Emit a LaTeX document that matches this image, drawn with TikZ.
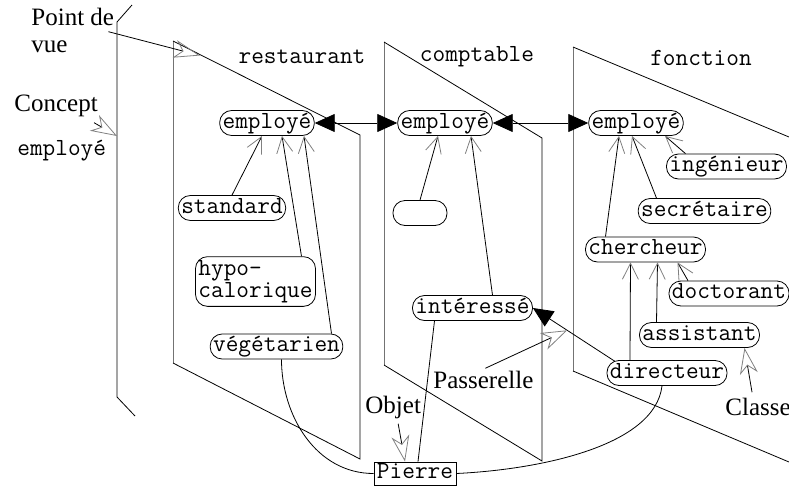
\documentclass[tikz,border=0pt]{standalone}
\usepackage{fontspec}
\setmainfont{Liberation Serif}
\usetikzlibrary{arrows.meta,calc}

\begin{document}
\begin{tikzpicture}[
  x=0.5pt,y=-0.5pt,thin,
  lab/.style={font=\fontsize{12.5}{13.5}\selectfont,inner sep=0pt},
  ttext/.style={font=\ttfamily\fontsize{12.3}{11}\selectfont},
  cls/.style={ttext,draw,fill=white,rounded corners=6pt,inner xsep=1.5pt,inner ysep=1.4pt,text height=7.5pt,text depth=2.2pt},
  clsml/.style={ttext,draw,fill=white,rounded corners=6pt,inner xsep=1.5pt,inner ysep=1.8pt,align=left},
  isa/.style={-{Straight Barb[length=8pt,width=8pt,color=gray]}},
  ptr/.style={-{Stealth[open,length=13pt,width=9pt,inset=4pt,color=gray]}},
  gate/.style={{Triangle[length=10pt,width=9pt]}-{Triangle[length=10pt,width=9pt]}},
]
\useasboundingbox (0,0) rectangle (789,488);

\draw (132,5) -- (117,22) -- (117,397) -- (135,416);
\draw[black!55] (173,41) -- (173,363);
\draw (173,41) -- (360,135) -- (360,459) -- (173,363);
\draw[black!55] (384,42) -- (384,365);
\draw (384,42) -- (542,138) -- (542,461) -- (384,365);
\draw[black!55] (573,47) -- (573,371);
\draw (573,47) -- (789,137);
\draw (573,371) -- (789,462);

\node[ttext] (trest) at (302,57) {restaurant};
\node[ttext] (tcomp) at (477,57) {comptable};
\node[ttext] (tfonc) at (701,58) {fonction};

\node[cls] (emp1) at (267,123) {employé};
\node[cls] (std) at (232,208) {standard};
\node[clsml] (hypo) at (255.5,281.5) {hypo-\\calorique};
\node[cls] (veg) at (276.5,346.5) {végétarien};
\node[cls] (emp2) at (445,123) {employé};
\node[cls,minimum width=27pt] (empt) at (420,213) {};
\node[cls] (int) at (472.5,308) {intéressé};
\node[cls] (emp3) at (636,123) {employé};
\node[cls] (ing) at (726.5,166.5) {ingénieur};
\node[cls] (sec) at (704.5,211) {secrétaire};
\node[cls] (cher) at (645.5,249.5) {chercheur};
\node[cls] (doc) at (729,293.5) {doctorant};
\node[cls] (ass) at (699.5,335) {assistant};
\node[cls] (dir) at (667,373) {directeur};
\node[ttext,draw,fill=white,inner xsep=1.5pt,inner ysep=0.9pt,text height=7.5pt,text depth=2.2pt] (pie) at (415,473.5) {Pierre};

\node[lab,anchor=north west,align=left] (pdv) at (31,8) {Point de\\vue};
\node[lab,anchor=base west] (con) at (14,111) {Concept};
\node[ttext,anchor=base west,inner sep=0pt] (cname) at (17,155) {employé};
\node[lab,anchor=base west] (pas) at (433,388) {Passerelle};
\node[lab,anchor=base west] (obj) at (365,413) {Objet};
\node[lab,anchor=base west] (cla) at (725,415) {Classe};
\coordinate (vpt) at (200,55.5);
\coordinate (cpt) at (117,136);

\draw[isa] (std.north) -- ($(emp1.south)+(-5,0)$);
\draw[isa] ($(hypo.north)+(46,0)$) -- ($(emp1.south)+(15,0)$);
\draw[isa] ($(veg.north)+(55,0)$) -- ($(emp1.south)+(37,0)$);
\draw[isa] (empt.north) -- ($(emp2.south)+(-7,0)$);
\draw[isa] ($(int.north)+(20,0)$) -- ($(emp2.south)+(26,0)$);
\draw[isa] ($(ing.north)+(-41,0)$) -- ($(emp3.south)+(29,0)$);
\draw[isa] ($(sec.north)+(-48,0)$) -- ($(emp3.south)+(-4,0)$);
\draw[isa] ($(cher.north)+(-40,0)$) -- ($(emp3.south)+(-17,0)$);
\draw[isa] ($(doc.north)+(-41,0)$) -- ($(cher.south)+(32,0)$);
\draw[isa] ($(ass.north)+(-43,0)$) -- ($(cher.south)+(12,0)$);
\draw[isa] ($(dir.north)+(-37,0)$) -- ($(cher.south)+(-15,0)$);

\draw[gate] (emp1.east) -- (emp2.west);
\draw[gate] (emp2.east) -- (emp3.west);
\draw[-{Triangle[length=10pt,width=9pt]}] ($(dir.north west)+(8,1)$) -- coordinate[pos=0.58] (gw) (int.east);

\draw ($(veg.south)+(5,0)$) .. controls +(0,57) and +(-57,0) .. (pie.west);
\draw ($(dir.south)+(-5,0)$) .. controls +(-7,60) and +(84,-4) .. (pie.east);
\draw ($(int.south)+(-38,0)$) -- ($(pie.north)+(3,0)$);

\draw[ptr] ($(pdv.east)+(-6,1)$) -- (vpt);
\draw[ptr] ($(con.south east)+(-4,6)$) -- (cpt);
\draw[ptr] ($(pas.north)+(2,-2)$) -- (gw);
\draw[ptr] ($(obj.south)+(5,5)$) -- ($(pie.north)+(-10,0)$);
\draw[ptr] ($(cla.north)+(-6,-5)$) -- ($(ass.south)+(45,0)$);
\end{tikzpicture}
\end{document}
